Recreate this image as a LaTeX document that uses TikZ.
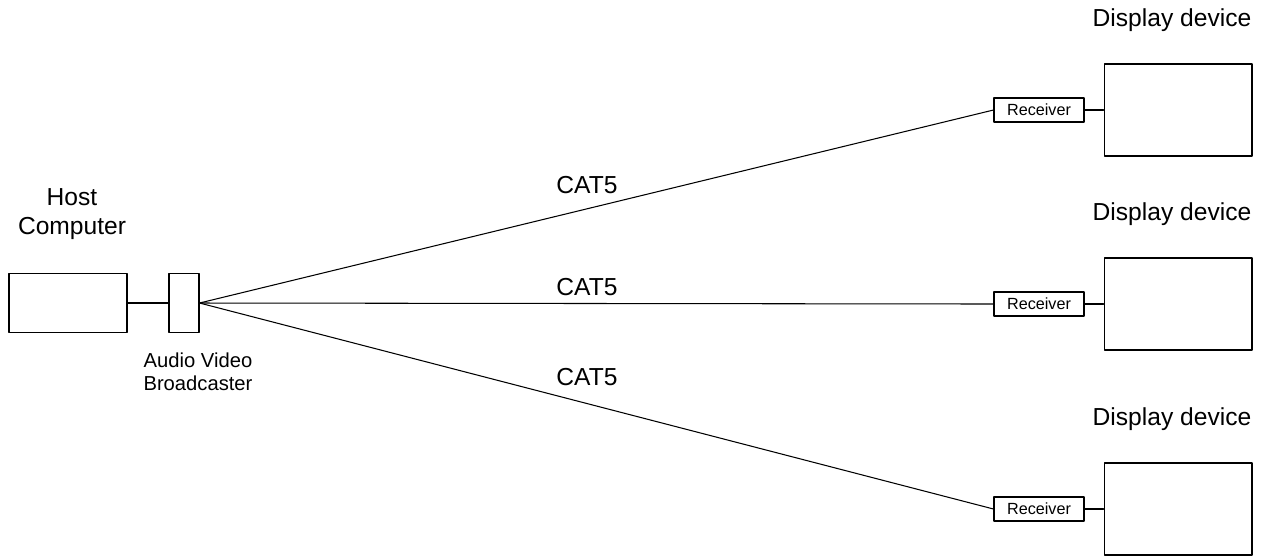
\documentclass[tikz,border=0pt]{standalone}
\usepackage{fontspec}
\setmainfont{Liberation Sans}
\usetikzlibrary{positioning}

\begin{document}
\begin{tikzpicture}[line cap=round,line join=round,x=0.02cm,y=-0.02cm,line width=0.6pt,
    box/.style={draw,rectangle,inner sep=0pt},
    big/.style={font=\fontsize{14}{16.4}\selectfont,align=center},
    small/.style={font=\fontsize{11.5}{12.8}\selectfont,align=center}]
      \useasboundingbox (0,0) rectangle (1263,556);
      % host side
      \node[box,minimum width=2.36cm,minimum height=1.18cm] (host) at (68,303) {};
      \node[box,minimum width=0.6cm,minimum height=1.18cm] (avb) at (184,303) {};
      \draw (host) -- (avb);
      \node[big] (hostlabel) at (72,214) {Host\\Computer};
      \node[small] (avblabel) at (198,372) {Audio Video\\Broadcaster};

      % three receivers with display devices
      \foreach \y/\c/\n in {110/185/1,304/287/2,509/377/3}{
        \node[box,minimum width=1.8cm,minimum height=0.48cm,
          font=\fontsize{9.2}{11}\selectfont] (rx\n) at (1039,\y) {Receiver};
        \node[box,minimum width=2.96cm,minimum height=1.84cm] (disp\n) at (1178,\y) {};
        \node[big] (displabel\n) at (1172,\y-90) {Display device};
        \draw (rx\n) -- (disp\n);
        \draw (avb.east) -- (rx\n.west);
        \node[big] (cat\n) at (587,\c) {CAT5};
      }
    \end{tikzpicture}
\end{document}
